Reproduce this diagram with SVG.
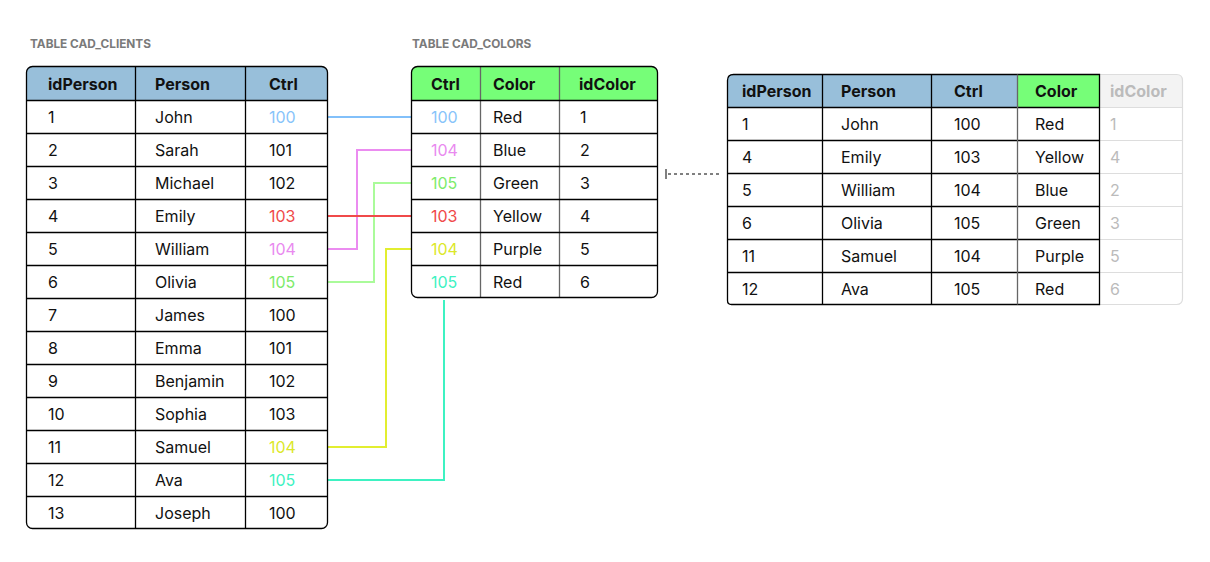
<svg xmlns="http://www.w3.org/2000/svg" width="1210" height="562" viewBox="0 0 1210 562">
<style>
text{font-family:Inter,"Liberation Sans",Arial,sans-serif;font-size:16px;fill:#111}
.h{font-weight:700}
.t{font-size:11.8px;font-weight:700;fill:#7a7a7a}
.ln{stroke:#000;stroke-width:1.3;fill:none}
.gl{stroke:#666;stroke-width:1.3;fill:none}
.lg{stroke:#ddd;stroke-width:1.2;fill:none}
.c{fill:none;stroke-width:2}
.g{fill:#bbb}
</style>
<defs>
<clipPath id="cl"><rect x="26.5" y="66.5" width="301" height="462" rx="6"/></clipPath>
<clipPath id="cm"><rect x="411.5" y="66.5" width="246" height="231" rx="6"/></clipPath>
</defs>
<rect width="1210" height="562" fill="#fff"/>
<text class="t" x="30" y="48">TABLE CAD_CLIENTS</text>
<text class="t" x="412" y="48">TABLE CAD_COLORS</text>

<g id="connectors">
<path class="c" stroke="#82C0FA" d="M328 117H411"/>
<path class="c" stroke="#EB8CF0" d="M328 249H357V150H411"/>
<path class="c" stroke="#AAFB9A" d="M328 282H374V183H411"/>
<path class="c" stroke="#F04A4A" d="M328 216H411"/>
<path class="c" stroke="#E2EE30" d="M328 447H386V249H411"/>
<path class="c" stroke="#3EF2C2" d="M328 480H444V300"/>
<path d="M666 169V179" stroke="#000" stroke-width="1"/>
<path d="M668 174H720" stroke="#000" stroke-width="1" stroke-dasharray="3 3"/>
</g>

<g id="cad_clients">
<rect x="26.5" y="66.5" width="301" height="34" fill="#98BFDA" clip-path="url(#cl)"/>
<rect x="26.5" y="66.5" width="301" height="462" rx="6" class="ln"/>
<path class="ln" d="M135.5 66.5V528.5M245.5 66.5V528.5M26.5 100.5H327.5M26.5 133.5H327.5M26.5 166.5H327.5M26.5 199.5H327.5M26.5 232.5H327.5M26.5 265.5H327.5M26.5 298.5H327.5M26.5 331.5H327.5M26.5 364.5H327.5M26.5 397.5H327.5M26.5 430.5H327.5M26.5 463.5H327.5M26.5 496.5H327.5"/>
<text class="h" x="48" y="90">idPerson</text>
<text class="h" x="155" y="90">Person</text>
<text class="h" x="269" y="90">Ctrl</text>
<g>
<text x="48" y="123">1</text><text x="155" y="123">John</text><text x="269" y="123" style="fill:#88C4FA">100</text>
<text x="48" y="156">2</text><text x="155" y="156">Sarah</text><text x="269" y="156">101</text>
<text x="48" y="189">3</text><text x="155" y="189">Michael</text><text x="269" y="189">102</text>
<text x="48" y="222">4</text><text x="155" y="222">Emily</text><text x="269" y="222" style="fill:#F04A4A">103</text>
<text x="48" y="255">5</text><text x="155" y="255">William</text><text x="269" y="255" style="fill:#E98AEF">104</text>
<text x="48" y="288">6</text><text x="155" y="288">Olivia</text><text x="269" y="288" style="fill:#7DEB6A">105</text>
<text x="48" y="321">7</text><text x="155" y="321">James</text><text x="269" y="321">100</text>
<text x="48" y="354">8</text><text x="155" y="354">Emma</text><text x="269" y="354">101</text>
<text x="48" y="387">9</text><text x="155" y="387">Benjamin</text><text x="269" y="387">102</text>
<text x="48" y="420">10</text><text x="155" y="420">Sophia</text><text x="269" y="420">103</text>
<text x="48" y="453">11</text><text x="155" y="453">Samuel</text><text x="269" y="453" style="fill:#DCE82A">104</text>
<text x="48" y="486">12</text><text x="155" y="486">Ava</text><text x="269" y="486" style="fill:#3EF2C2">105</text>
<text x="48" y="519">13</text><text x="155" y="519">Joseph</text><text x="269" y="519">100</text>
</g>
</g>

<g id="cad_colors">
<rect x="411.5" y="66.5" width="246" height="34" fill="#76FE78" clip-path="url(#cm)"/>
<path class="gl" d="M480.5 66.5V297.5M559.5 66.5V297.5"/>
<path class="ln" d="M411.5 100.5H657.5M411.5 133.5H657.5M411.5 166.5H657.5M411.5 199.5H657.5M411.5 232.5H657.5M411.5 265.5H657.5"/>
<rect x="411.5" y="66.5" width="246" height="231" rx="6" class="ln"/>
<text class="h" x="431" y="90">Ctrl</text>
<text class="h" x="493" y="90">Color</text>
<text class="h" x="579" y="90">idColor</text>
<text x="431" y="123" style="fill:#88C4FA">100</text><text x="493" y="123">Red</text><text x="580" y="123">1</text>
<text x="431" y="156" style="fill:#E98AEF">104</text><text x="493" y="156">Blue</text><text x="580" y="156">2</text>
<text x="431" y="189" style="fill:#7DEB6A">105</text><text x="493" y="189">Green</text><text x="580" y="189">3</text>
<text x="431" y="222" style="fill:#F04A4A">103</text><text x="493" y="222">Yellow</text><text x="580" y="222">4</text>
<text x="431" y="255" style="fill:#DCE82A">104</text><text x="493" y="255">Purple</text><text x="580" y="255">5</text>
<text x="431" y="288" style="fill:#3EF2C2">105</text><text x="493" y="288">Red</text><text x="580" y="288">6</text>
</g>

<g id="result">
<path d="M1099.5 74.5H1176.5Q1182.5 74.5 1182.5 80.5V107.5H1099.5Z" fill="#F3F3F3"/>
<path class="lg" d="M1099.5 74.5H1176.5Q1182.5 74.5 1182.5 80.5V298.5Q1182.5 304.5 1176.5 304.5H1099.5M1099.5 107.5H1182.5M1099.5 140.5H1182.5M1099.5 173.5H1182.5M1099.5 206.5H1182.5M1099.5 239.5H1182.5M1099.5 272.5H1182.5"/>
<path d="M733.5 74.5H1017.5V107.5H727.5V80.5Q727.5 74.5 733.5 74.5Z" fill="#98BFDA"/>
<rect x="1017.5" y="74.5" width="82" height="33" fill="#76FE78"/>
<path class="ln" d="M1099.5 74.5H733.5Q727.5 74.5 727.5 80.5V300.5Q727.5 304.5 731.5 304.5H1099.5Z"/>
<path class="ln" d="M822.5 74.5V304.5M931.5 74.5V304.5M727.5 107.5H1099.5M727.5 140.5H1099.5M727.5 173.5H1099.5M727.5 206.5H1099.5M727.5 239.5H1099.5M727.5 272.5H1099.5"/>
<path class="gl" d="M1017.5 74.5V304.5"/>
<text class="h" x="742" y="97">idPerson</text>
<text class="h" x="841" y="97">Person</text>
<text class="h" x="954" y="97">Ctrl</text>
<text class="h" x="1035" y="97">Color</text>
<text class="h g" x="1110" y="97">idColor</text>
<text x="742" y="130">1</text><text x="841" y="130">John</text><text x="954" y="130">100</text><text x="1035" y="130">Red</text><text class="g" x="1110" y="130">1</text>
<text x="742" y="163">4</text><text x="841" y="163">Emily</text><text x="954" y="163">103</text><text x="1035" y="163">Yellow</text><text class="g" x="1110" y="163">4</text>
<text x="742" y="196">5</text><text x="841" y="196">William</text><text x="954" y="196">104</text><text x="1035" y="196">Blue</text><text class="g" x="1110" y="196">2</text>
<text x="742" y="229">6</text><text x="841" y="229">Olivia</text><text x="954" y="229">105</text><text x="1035" y="229">Green</text><text class="g" x="1110" y="229">3</text>
<text x="742" y="262">11</text><text x="841" y="262">Samuel</text><text x="954" y="262">104</text><text x="1035" y="262">Purple</text><text class="g" x="1110" y="262">5</text>
<text x="742" y="295">12</text><text x="841" y="295">Ava</text><text x="954" y="295">105</text><text x="1035" y="295">Red</text><text class="g" x="1110" y="295">6</text>
</g>
</svg>
